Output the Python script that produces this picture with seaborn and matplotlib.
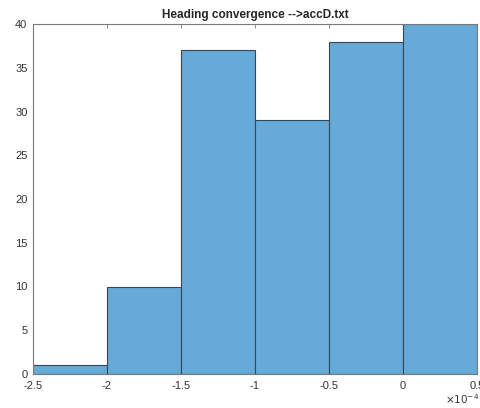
import matplotlib
matplotlib.use("Agg")
import matplotlib.pyplot as plt
import seaborn as sns
import numpy as np

# histogram data (x in units of 1e-4)
bin_edges = [-2.5, -2.0, -1.5, -1.0, -0.5, 0.0, 0.5]
counts = [1, 10, 37, 29, 38, 40]
x_ticks = [-2.5, -2, -1.5, -1, -0.5, 0, 0.5]
x_tick_labels = ["-2.5", "-2", "-1.5", "-1", "-0.5", "0", "0.5"]
y_ticks = [0, 5, 10, 15, 20, 25, 30, 35, 40]

sns.set_style("white")
plt.rcParams["font.family"] = ["Liberation Sans", "DejaVu Sans"]

bin_centers = [(bin_edges[i] + bin_edges[i + 1]) / 2 for i in range(len(counts))]

fig = plt.figure(figsize=(4.81, 4.08), dpi=100)
ax = fig.add_axes([33 / 481, 34 / 408, 444 / 481, 350 / 408])

sns.histplot(x=bin_centers, weights=counts, bins=bin_edges, ax=ax,
             color="#66aad7", alpha=1.0, edgecolor="#37475a", linewidth=0.8)

ax.set_xlim(-2.5, 0.5)
ax.set_ylim(0, 40)
ax.set_xticks(x_ticks)
ax.set_xticklabels(x_tick_labels)
ax.set_yticks(y_ticks)
ax.set_xlabel("")
ax.set_ylabel("")

for s in ax.spines.values():
    s.set_color("#7a7a7a")
    s.set_linewidth(0.8)
ax.tick_params(direction="in", length=3, width=0.6, color="#7a7a7a",
               labelsize=8, labelcolor="#333333", top=True, right=True)
ax.tick_params(axis="x", pad=5)
ax.tick_params(axis="y", pad=4)

ax.set_title("Heading convergence -->accD.txt", fontsize=8.5, fontweight="bold",
             pad=4)
fig.text(479 / 481, 9 / 408, r"$\times10^{-4}$", fontsize=7.5, color="#333333",
         ha="right", va="center")

fig.savefig("out.png", dpi=100)
